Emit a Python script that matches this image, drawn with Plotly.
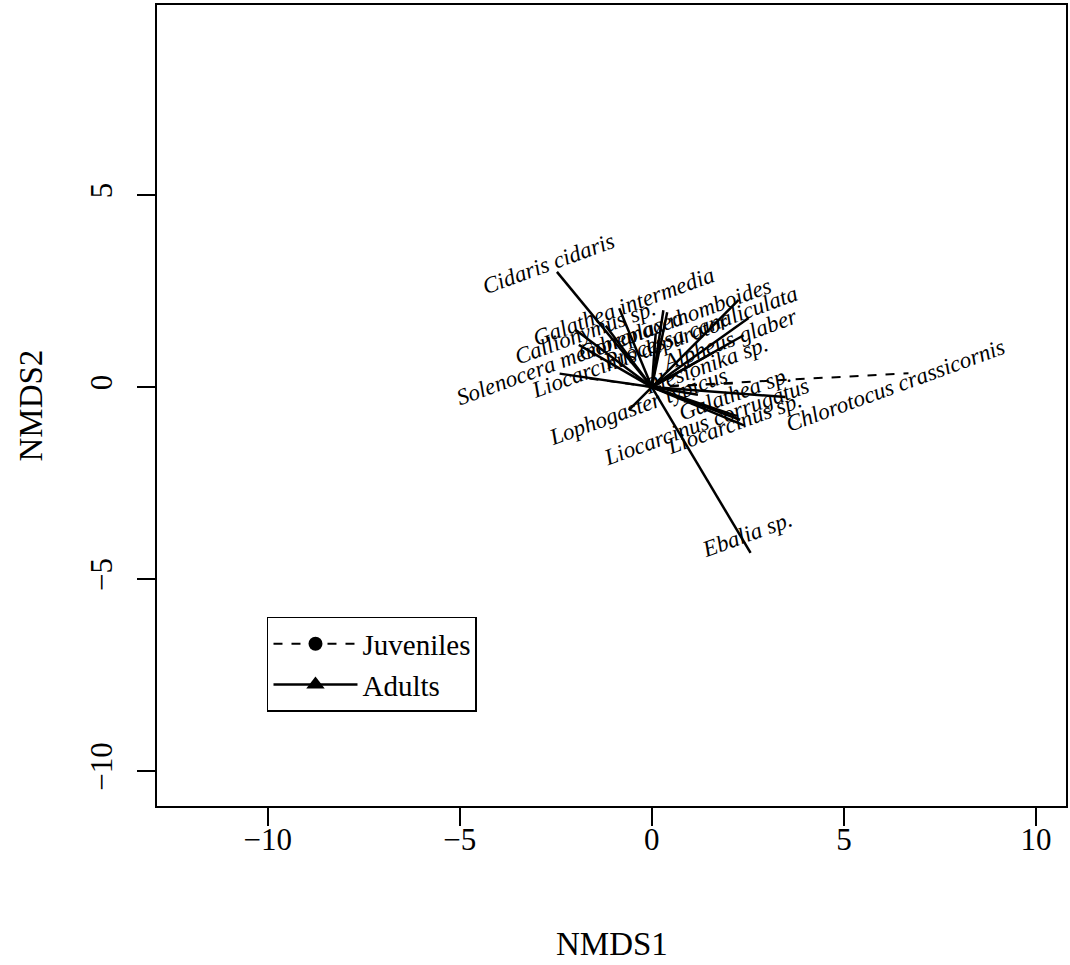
import plotly.graph_objects as go

# Species labels and their positions (NMDS units)
species = ["Cidaris cidaris", "Galathea intermedia", "Callionymus sp.",
           "Solenocera membranacea", "Goneplax rhomboides", "Processa canaliculata",
           "Alpheus glaber", "Plesionika sp.", "Liocarcinus depurator",
           "Lophogaster typicus", "Liocarcinus corrugatus", "Liocarcinus sp.",
           "Galathea sp.", "Chlorotocus crassicornis", "Ebalia sp."]
label_x = [-2.68, -0.73, -1.74, -2.13, 0.60, 1.27, 2.03, 1.40, -0.55,
           -0.36, 1.43, 2.13, 2.16, 6.34, 2.47]
label_y = [3.23, 2.11, 1.43, 0.78, 1.77, 1.54, 1.25, 0.57, 0.81,
           -0.50, -0.90, -0.94, -0.16, 0.03, -3.85]

# Adult vectors (end points, from origin)
adult_x = [-2.47, -0.85, -2.0, -1.9, 0.30, 0.40, 2.26, 2.52, 2.39, 1.6,
           -2.4, -0.6, 2.4, 2.3, 2.2, 3.48, 1.2, 2.57, 0.1, -1.2]
adult_y = [3.00, 2.05, 1.5, 1.1, 2.0, 1.95, 2.27, 1.8, 1.35, 0.9,
           0.35, -0.6, -1.0, -0.85, -0.75, -0.26, -0.2, -4.32, 1.4, 1.6]

# Juvenile vectors (end points, from origin)
juv_x = [6.68, -1.8, 2.2, 0.9]
juv_y = [0.36, 0.25, 0.10, 0.45]

x_ticks = [-10, -5, 0, 5, 10]
y_ticks = [-10, -5, 0, 5]

def segs(xs, ys):
    X, Y = [], []
    for a, b in zip(xs, ys):
        X += [0, a, None]
        Y += [0, b, None]
    return X, Y

fig = go.Figure()
ax, ay = segs(adult_x, adult_y)
jx, jy = segs(juv_x, juv_y)
fig.add_trace(go.Scatter(x=ax, y=ay, mode="lines", line=dict(color="black", width=2.5),
                         showlegend=False, hoverinfo="skip"))
fig.add_trace(go.Scatter(x=jx, y=jy, mode="lines", line=dict(color="black", width=2, dash="dash"),
                         showlegend=False, hoverinfo="skip"))
# legend entries
fig.add_trace(go.Scatter(x=[None], y=[None], mode="lines+markers", name="Juveniles",
                         line=dict(color="black", width=2, dash="dash"),
                         marker=dict(symbol="circle", size=14, color="black")))
fig.add_trace(go.Scatter(x=[None], y=[None], mode="lines+markers", name="Adults",
                         line=dict(color="black", width=2.5),
                         marker=dict(symbol="triangle-up", size=16, color="black")))

for s, x, y in zip(species, label_x, label_y):
    fig.add_annotation(x=x, y=y, text="<i>" + s + "</i>", showarrow=False, textangle=-20,
                       font=dict(family="Liberation Serif", size=23, color="black"))

tick_font = dict(family="Liberation Serif", size=31, color="black")
title_font = dict(family="Liberation Serif", size=33, color="black")
fig.update_xaxes(range=[-12.88, 10.78], tickvals=x_ticks, ticktext=["\u221210", "\u22125", "0", "5", "10"],
                 ticks="outside", ticklen=18, tickwidth=2, tickcolor="black",
                 showline=True, linecolor="black", linewidth=2, mirror=True,
                 showgrid=False, zeroline=False, tickfont=tick_font, ticklabelstandoff=-13)
fig.update_yaxes(range=[-10.91, 9.95], tickvals=y_ticks, ticktext=["\u221210", "\u22125", "0", "5"],
                 ticks="outside", ticklen=18, tickwidth=2, tickcolor="black",
                 showline=True, linecolor="black", linewidth=2, mirror=True,
                 showgrid=False, zeroline=False, tickfont=tick_font, tickangle=-90,
                 ticklabelstandoff=13)

fig.add_annotation(xref="paper", yref="paper", x=0.5, y=0, yshift=-138, text="NMDS1",
                   showarrow=False, font=title_font, yanchor="middle")
fig.add_annotation(xref="paper", yref="paper", x=0, y=0.5, xshift=-127, text="NMDS2",
                   showarrow=False, font=title_font, textangle=-90, xanchor="center")

fig.update_layout(width=1070, height=965, margin=dict(l=157, r=2, t=5, b=159),
                  plot_bgcolor="white", paper_bgcolor="white",
                  legend=dict(x=0.121, y=0.236, xanchor="left", yanchor="top",
                              bordercolor="black", borderwidth=1.5, bgcolor="white",
                              font=dict(family="Liberation Serif", size=29, color="black"),
                              itemwidth=84, tracegroupgap=0))
fig.write_html("out.html", post_script="document.body.style.margin='0px';",
               config={"displayModeBar": False})
